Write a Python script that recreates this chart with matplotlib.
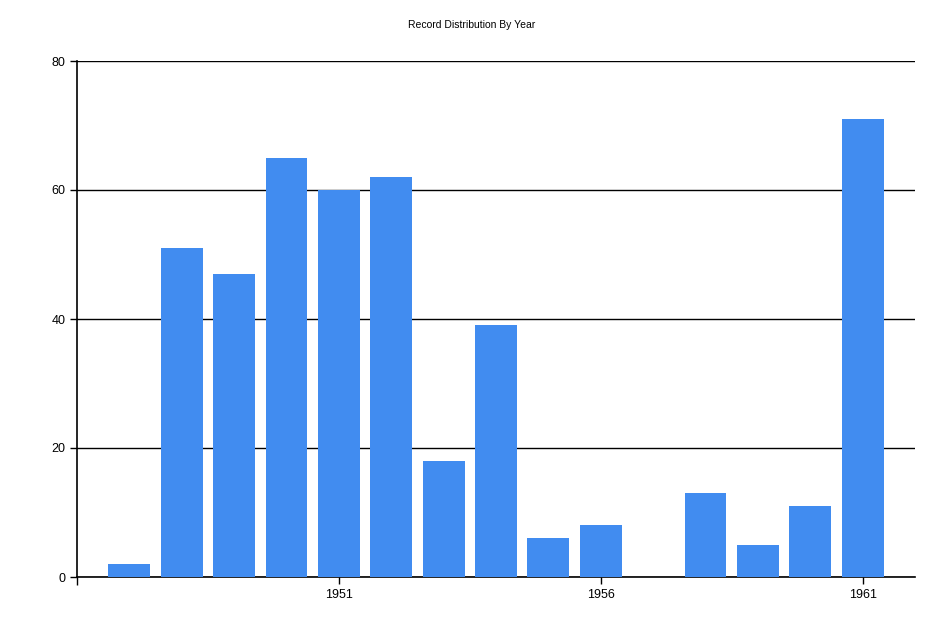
import matplotlib
matplotlib.use("Agg")
import matplotlib.pyplot as plt

years = [1947, 1948, 1949, 1950, 1951, 1952, 1953, 1954, 1955, 1956, 1957, 1958, 1959, 1960, 1961]
counts = [2, 51, 47, 65, 60, 62, 18, 39, 6, 8, 0, 13, 5, 11, 71]
xticks = [1951, 1956, 1961]
yticks = [0, 20, 40, 60, 80]
title = "Record Distribution By Year"

plt.rcParams['font.family'] = ['Liberation Sans', 'DejaVu Sans']
fig = plt.figure(figsize=(9.45, 6.3), dpi=100)
ax = fig.add_axes([77/945, 1-577/630, (915-77)/945, (577-61)/630])

ax.bar(years, counts, width=0.8, color='#418CF0', zorder=3)
ax.set_xlim(1946, 1962)
ax.set_ylim(0, 80)
ax.set_yticks(yticks)
ax.set_xticks(xticks)
ax.set_xticks([1946], minor=True)
ax.tick_params(axis='x', which='minor', length=6, width=1, color='black', direction='out')
ax.tick_params(axis='both', labelsize=9, length=5, width=1, color='black')
ax.grid(axis='y', color='black', linewidth=1, zorder=0)
for s in ['top', 'right']:
    ax.spines[s].set_visible(False)
for s in ['left', 'bottom']:
    ax.spines[s].set_linewidth(1.2)
fig.text(472/945, 1-25/630, title, ha='center', va='center', fontsize=7.5)
fig.savefig('out.png', dpi=100)
